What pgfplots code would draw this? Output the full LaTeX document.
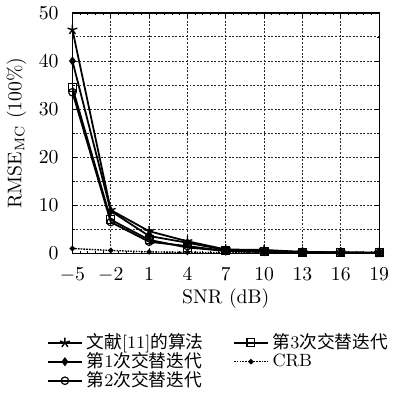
\documentclass[border=0pt]{standalone}
\usepackage{fontspec}
\usepackage{pgfplots}
\pgfplotsset{compat=1.18}
\newfontfamily\cjk{Noto Sans CJK SC}
\begin{document}
\begin{tikzpicture}
\begin{axis}[
  scale only axis,
  width=155bp, height=121.5bp,
  xmin=-5, xmax=19, ymin=0, ymax=50,
  xtick={-5,-2,1,4,7,10,13,16,19},
  ytick={0,10,20,30,40,50},
  minor x tick num=4,
  minor ytick={5,15,25,35,45},
  xmajorgrids, ymajorgrids, yminorgrids,
  major grid style={dash pattern=on 1pt off 0.8pt, black!85, line width=0.5pt},
  minor grid style={dash pattern=on 1pt off 0.8pt, black!85, line width=0.5pt},
  tick align=inside,
  major tick length=2pt, minor tick length=1.3pt,
  tick style={black, line width=0.4pt},
  axis line style={line width=0.6pt},
  tick label style={font=\fontsize{10}{12}\selectfont},
  xticklabel style={yshift=-4bp},
  yticklabel style={xshift=-3.5bp},
  label style={font=\fontsize{10}{12}\selectfont},
  xlabel={SNR (dB)},
  xlabel style={yshift=3.5pt},
  ylabel={RMSE$_{\mathrm{MC}}$ (100\%)},
  ylabel style={yshift=-0.5pt},
  legend columns=2,
  legend style={draw=none, fill=none, at={(0.48,-0.30)}, anchor=north,
    font=\fontsize{9}{10}\selectfont,
    /tikz/every even column/.append style={column sep=13pt},
    row sep=-3.5pt},
  legend cell align=left,
  every axis plot/.append style={line width=0.9pt, black},
]
\addplot[mark=star, mark size=2.6pt, mark options={solid, line width=0.7pt}] coordinates {
(-5,46.5) (-2,9.0) (1,4.6) (4,2.5) (7,0.8) (10,0.7) (13,0.3) (16,0.2) (19,0.1)};
\addlegendentry{{\cjk 文献}[11]{\cjk 的算法}}
\addplot[mark=square, mark size=2pt, mark options={solid, line width=0.6pt}] coordinates {
(-5,34.5) (-2,7.0) (1,2.8) (4,1.2) (7,0.5) (10,0.4) (13,0.2) (16,0.15) (19,0.1)};
\addlegendentry{{\cjk 第}3{\cjk 次交替迭代}}
\addplot[mark=diamond*, mark size=1.6pt, mark options={solid}] coordinates {
(-5,40.0) (-2,8.8) (1,3.6) (4,2.2) (7,0.7) (10,0.6) (13,0.25) (16,0.2) (19,0.1)};
\addlegendentry{{\cjk 第}1{\cjk 次交替迭代}}
\addplot[dash pattern=on 0.8pt off 0.6pt, mark=*, mark size=1pt, mark options={solid}, line width=0.7pt] coordinates {
(-5,1.0) (-2,0.6) (1,0.3) (4,0.2) (7,0.15) (10,0.12) (13,0.1) (16,0.08) (19,0.06)};
\addlegendentry{CRB}
\addplot[mark=o, mark size=1.9pt, mark options={solid, line width=0.6pt}] coordinates {
(-5,33.5) (-2,6.5) (1,2.4) (4,1.5) (7,0.5) (10,0.3) (13,0.2) (16,0.15) (19,0.1)};
\addlegendentry{{\cjk 第}2{\cjk 次交替迭代}}
\end{axis}
\end{tikzpicture}
\end{document}
